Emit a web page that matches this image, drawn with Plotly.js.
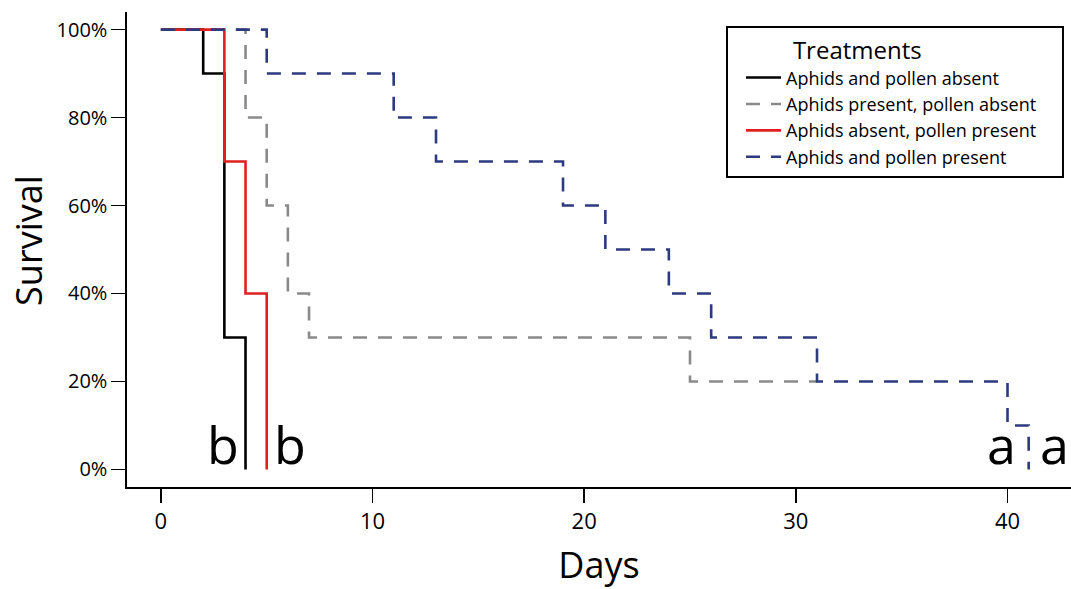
<!DOCTYPE html>
<html>
<head>
<meta charset="utf-8">
<script src="https://cdn.plot.ly/plotly-3.0.1.min.js"></script>
<style>html,body{margin:0;padding:0;background:#fff;}#chart{width:1071px;height:589px;}</style>
</head>
<body>
<div id="chart"></div>
<script>
// Kaplan-Meier survival steps (days, survival fraction)
const names = ["Aphids and pollen absent", "Aphids present, pollen absent", "Aphids absent, pollen present", "Aphids and pollen present"];
const daysNone = [0, 2, 3, 4];
const survNone = [1.0, 0.9, 0.3, 0.0];
const daysAphids = [0, 4, 5, 6, 7, 25, 31];
const survAphids = [1.0, 0.8, 0.6, 0.4, 0.3, 0.2, 0.2];
const daysPollen = [0, 3, 4, 5];
const survPollen = [1.0, 0.7, 0.4, 0.0];
const daysBoth = [0, 5, 11, 13, 19, 21, 24, 26, 31, 40, 41];
const survBoth = [1.0, 0.9, 0.8, 0.7, 0.6, 0.5, 0.4, 0.3, 0.2, 0.1, 0.0];
const yTicks = [0, 0.2, 0.4, 0.6, 0.8, 1.0];
const xTicks = [0, 10, 20, 30, 40];
const letters = ["b", "b", "a", "a"];
const letterX = [2.95, 6.1, 39.7, 42.2];
const letterY = [0.058, 0.058, 0.058, 0.058];

const FONT = "Open Sans, Liberation Sans, sans-serif";
const dashPat = "14px,11px";
const NB = "\u00a0";

const traces = [
  {x: daysNone, y: survNone, name: names[0], line: {color: "#000000", width: 2.6, shape: "hv"}},
  {x: daysAphids, y: survAphids, name: names[1], line: {color: "#8a8a8a", width: 2.6, shape: "hv", dash: dashPat}},
  {x: daysPollen, y: survPollen, name: names[2], line: {color: "#e0201f", width: 2.6, shape: "hv"}},
  {x: daysBoth, y: survBoth, name: names[3], line: {color: "#2c3a7f", width: 2.6, shape: "hv", dash: dashPat}}
].map(t => Object.assign({type: "scatter", mode: "lines", hoverinfo: "skip"}, t));

const annotations = letters.map((txt, i) => ({
  x: letterX[i], y: letterY[i], xref: "x", yref: "y", text: txt, showarrow: false,
  xanchor: "center", yanchor: "middle", font: {family: FONT, size: 52, color: "#000"}
}));
annotations.push({
  x: -0.105, y: 0.52, xref: "paper", yref: "paper", text: "Survival", textangle: -90,
  showarrow: false, xanchor: "center", yanchor: "middle", font: {family: FONT, size: 36, color: "#000"}
});

const layout = {
  width: 1071, height: 589,
  margin: {l: 127, r: 0, t: 12, b: 102},
  paper_bgcolor: "#fff", plot_bgcolor: "#fff",
  showlegend: true,
  font: {family: FONT, color: "#000"},
  xaxis: {
    range: [-1.6, 43.0], tickvals: xTicks, ticktext: xTicks.map(String),
    showline: true, linecolor: "#000", linewidth: 1.6, mirror: false,
    ticks: "outside", ticklen: 14, tickwidth: 1.4, tickcolor: "#000",
    showgrid: false, zeroline: false,
    tickfont: {family: FONT, size: 22},
    title: {text: "Days", font: {family: FONT, size: 36}, standoff: 22}
  },
  yaxis: {
    range: [-0.04, 1.04], tickvals: yTicks, tickformat: ".0%",
    showline: true, linecolor: "#000", linewidth: 1.6,
    ticks: "outside", ticklen: 14, tickwidth: 1.4, tickcolor: "#000",
    showgrid: false, zeroline: false,
    tickfont: {family: FONT, size: 20}
  },
  shapes: [{
    type: "rect", xref: "paper", yref: "paper",
    x0: 0.6356, x1: 0.9915, y0: 0.6526, y1: 0.9684,
    line: {color: "#000", width: 2}, fillcolor: "#fff", layer: "below"
  }],
  legend: {
    x: (741 - 127) / 944, y: 0.966, xanchor: "left", yanchor: "top",
    borderwidth: 0, bgcolor: "rgba(0,0,0,0)",
    font: {family: FONT, size: 18}, tracegroupgap: 0, itemwidth: 35,
    title: {text: NB.repeat(8) + "Treatments", side: "top", font: {family: FONT, size: 24}}
  },
  annotations: annotations
};

Plotly.newPlot("chart", traces, layout, {staticPlot: true, displayModeBar: false});
</script>
</body>
</html>
